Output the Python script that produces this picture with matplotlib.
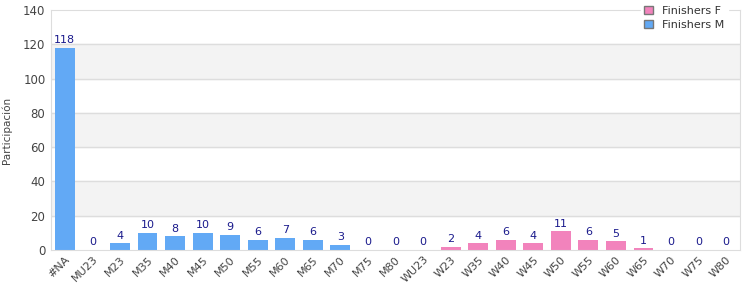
import matplotlib.pyplot as plt
from matplotlib.patches import Patch

categories = ["#NA", "MU23", "M23", "M35", "M40", "M45", "M50", "M55", "M60", "M65",
              "M70", "M75", "M80", "WU23", "W23", "W35", "W40", "W45", "W50", "W55",
              "W60", "W65", "W70", "W75", "W80"]
values = [118, 0, 4, 10, 8, 10, 9, 6, 7, 6, 3, 0, 0, 0, 2, 4, 6, 4, 11, 6, 5, 1, 0, 0, 0]
groups = ["M"] * 13 + ["F"] * 12

blue = "#62a9f5"
pink = "#f283bc"
colors = [blue if g == "M" else pink for g in groups]

fig = plt.figure(figsize=(7.5, 3), dpi=100)
ax = fig.add_axes([51 / 750, 50 / 300, 689 / 750, 240 / 300])

# alternating bands + grid lines
for lo in (20, 60, 100):
    ax.axhspan(lo, lo + 20, color="#f3f3f3", zorder=0)
for y in range(20, 140, 20):
    ax.axhline(y, color="#dddddd", lw=1, zorder=0.5)

x = range(len(categories))
ax.bar(x, values, width=0.72, color=colors, zorder=2)
for i, v in enumerate(values):
    ax.text(i, v + 1.5, str(v), ha="center", va="bottom", fontsize=8, color="#1a1a8c")

ax.set_xlim(-0.5, len(categories) - 0.5)
ax.set_ylim(0, 140)
ax.set_yticks(range(0, 141, 20))
ax.set_xticks(list(x))
ax.set_xticklabels(categories, rotation=45, ha="right", rotation_mode="anchor",
                   fontsize=8, color="#444444")
ax.tick_params(axis="y", labelsize=8.5, colors="#444444", length=0, pad=4)
ax.tick_params(axis="x", length=0, pad=3)
for s in ax.spines.values():
    s.set_color("#dddddd")
ax.set_ylabel("Participación", fontsize=7.5, color="#444444", labelpad=8)

handles = [Patch(facecolor=pink, edgecolor="#777777", label="Finishers F"),
           Patch(facecolor=blue, edgecolor="#777777", label="Finishers M")]
leg = ax.legend(handles=handles, loc="upper right", bbox_to_anchor=(0.99, 1.055),
                fontsize=8, frameon=True, fancybox=False, handlelength=0.8,
                handleheight=0.8, labelspacing=0.35, borderpad=0.3)
leg.get_frame().set_edgecolor("white")
leg.get_frame().set_facecolor("white")
leg.get_frame().set_alpha(1)
for t in leg.get_texts():
    t.set_color("#333333")

fig.savefig("out.png", dpi=100)
